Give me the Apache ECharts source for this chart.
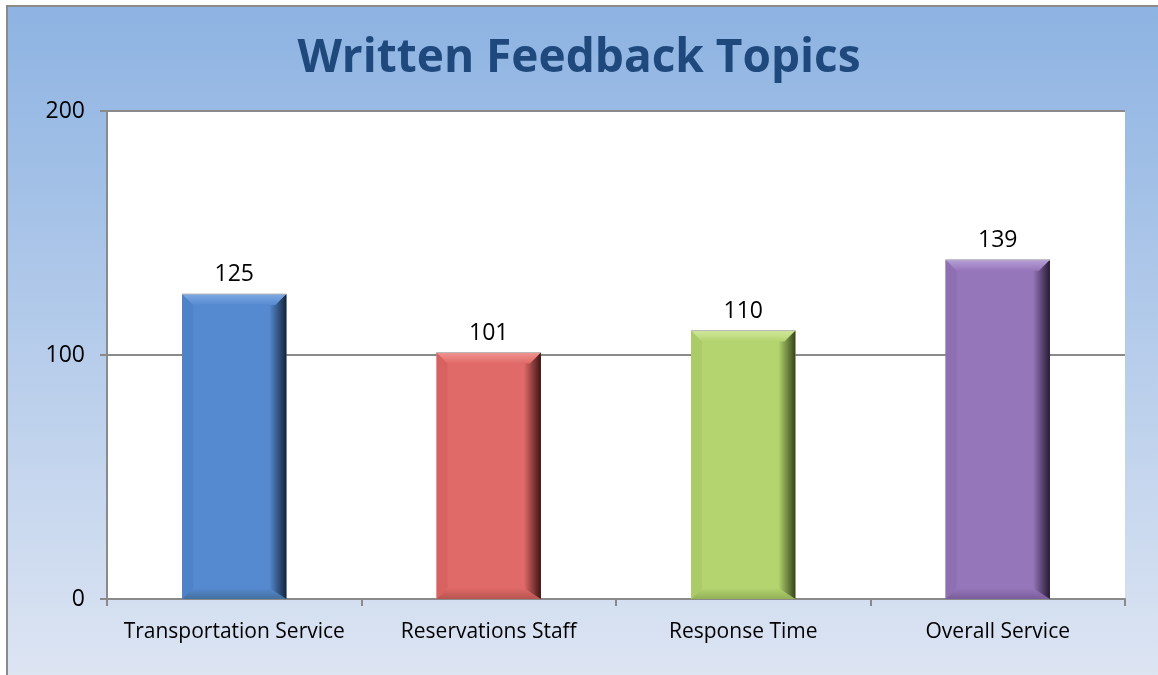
<!DOCTYPE html>
<html>
<head>
<meta charset="utf-8">
<script src="https://cdn.jsdelivr.net/npm/echarts@6/dist/echarts.min.js"></script>
<style>
  html, body { margin: 0; padding: 0; background: #fff; }
  #chart { width: 1158px; height: 675px; }
</style>
</head>
<body>
<div id="chart"></div>
<script>
// data
const categories = ['Transportation Service', 'Reservations Staff', 'Response Time', 'Overall Service']
const counts = [125, 101, 110, 139]
const yTicks = [0, 100, 200]

// bevel colours per bar: face, top, edge shade
const palette = [
  { face: '#5589d0', top: '#7eaae3', left: '#4f83c8', bottom: '#44709f', dark: '#14243a' },
  { face: '#e06a67', top: '#f09390', left: '#d8625f', bottom: '#b75451', dark: '#3e1514' },
  { face: '#b3d46f', top: '#d0e89a', left: '#abcb69', bottom: '#93b158', dark: '#36431a' },
  { face: '#9676ba', top: '#b59fd6', left: '#8e6fb2', bottom: '#7a5d9b', dark: '#261a33' },
]

const chart = echarts.init(document.getElementById('chart'))

function renderBar(params, api) {
  const c = palette[params.dataIndex]
  const base = api.coord([api.value(0), 0])
  const top = api.coord([api.value(0), api.value(1)])
  const bw = api.size([1, 0])[0] * 0.41
  const l = base[0] - bw / 2
  const r = l + bw
  const y0 = base[1]
  const yt = top[1]
  const b = 11
  const grad = (x, y, x2, y2, a, z) => new echarts.graphic.LinearGradient(x, y, x2, y2, [
    { offset: 0, color: a }, { offset: 1, color: z }
  ])
  return {
    type: 'group',
    children: [
      { type: 'rect', shape: { x: l, y: yt, width: bw, height: y0 - yt }, style: { fill: c.face } },
      { type: 'polygon', shape: { points: [[l, y0], [r, y0], [r - b, y0 - b], [l + b, y0 - b]] }, style: { fill: grad(0, 0, 0, 1, c.face, c.bottom) } },
      { type: 'polygon', shape: { points: [[l, yt], [l + b, yt + b], [l + b, y0 - b], [l, y0]] }, style: { fill: c.left } },
      { type: 'polygon', shape: { points: [[r - b - 6, yt + b], [r, yt], [r, y0], [r - b - 6, y0 - b]] }, style: { fill: grad(0, 0, 1, 0, c.face, c.dark) } },
      { type: 'polygon', shape: { points: [[l, yt], [r, yt], [r - b, yt + b], [l + b, yt + b]] }, style: { fill: grad(0, 0, 0, 1, c.top, c.face) } },
      { type: 'line', shape: { x1: l, y1: yt, x2: r, y2: yt }, style: { stroke: '#b8b8b8', lineWidth: 1 } },
      {
        type: 'text',
        x: (l + r) / 2,
        y: yt - 8,
        style: {
          text: String(api.value(1)),
          fill: '#000',
          font: '23px "Open Sans", sans-serif',
          align: 'center',
          verticalAlign: 'bottom'
        }
      }
    ]
  }
}

const option = {
  animation: false,
  graphic: [{
    type: 'rect',
    z: -10,
    silent: true,
    shape: { x: 7, y: 6, width: 1170, height: 690 },
    style: {
      fill: new echarts.graphic.LinearGradient(0, 0, 0, 1, [
        { offset: 0, color: '#8db3e2' },
        { offset: 1, color: '#dfe6f3' }
      ]),
      stroke: '#8a8a8a',
      lineWidth: 2
    }
  }],
  title: {
    text: 'Written Feedback Topics',
    left: 'center',
    top: 31,
    textStyle: {
      color: '#1f497d',
      fontSize: 46,
      fontWeight: 'bold',
      fontFamily: '"Open Sans", sans-serif'
    }
  },
  grid: {
    left: 107,
    right: 33,
    top: 111,
    bottom: 76,
    show: true,
    backgroundColor: '#fff',
    borderWidth: 0
  },
  xAxis: {
    type: 'category',
    data: categories,
    axisLine: { lineStyle: { color: '#8a8a8a', width: 2 } },
    axisTick: { show: true, length: 7, lineStyle: { color: '#8a8a8a', width: 2 } },
    axisLabel: { interval: 0, color: '#000', fontSize: 21, margin: 23, fontFamily: '"Open Sans", sans-serif' }
  },
  yAxis: {
    type: 'value',
    min: yTicks[0],
    max: yTicks[yTicks.length - 1],
    interval: yTicks[1] - yTicks[0],
    axisLine: { show: true, lineStyle: { color: '#8a8a8a', width: 2 } },
    axisTick: { show: true, length: 7, lineStyle: { color: '#8a8a8a', width: 2 } },
    splitLine: { lineStyle: { color: '#8a8a8a', width: 2 } },
    axisLabel: { color: '#000', fontSize: 23, margin: 22, fontFamily: '"Open Sans", sans-serif' }
  },
  series: [{
    type: 'custom',
    renderItem: renderBar,
    encode: { x: 0, y: 1 },
    data: counts.map((v, i) => [i, v]),
    z: 3
  }]
}

chart.setOption(option)
</script>
</body>
</html>
